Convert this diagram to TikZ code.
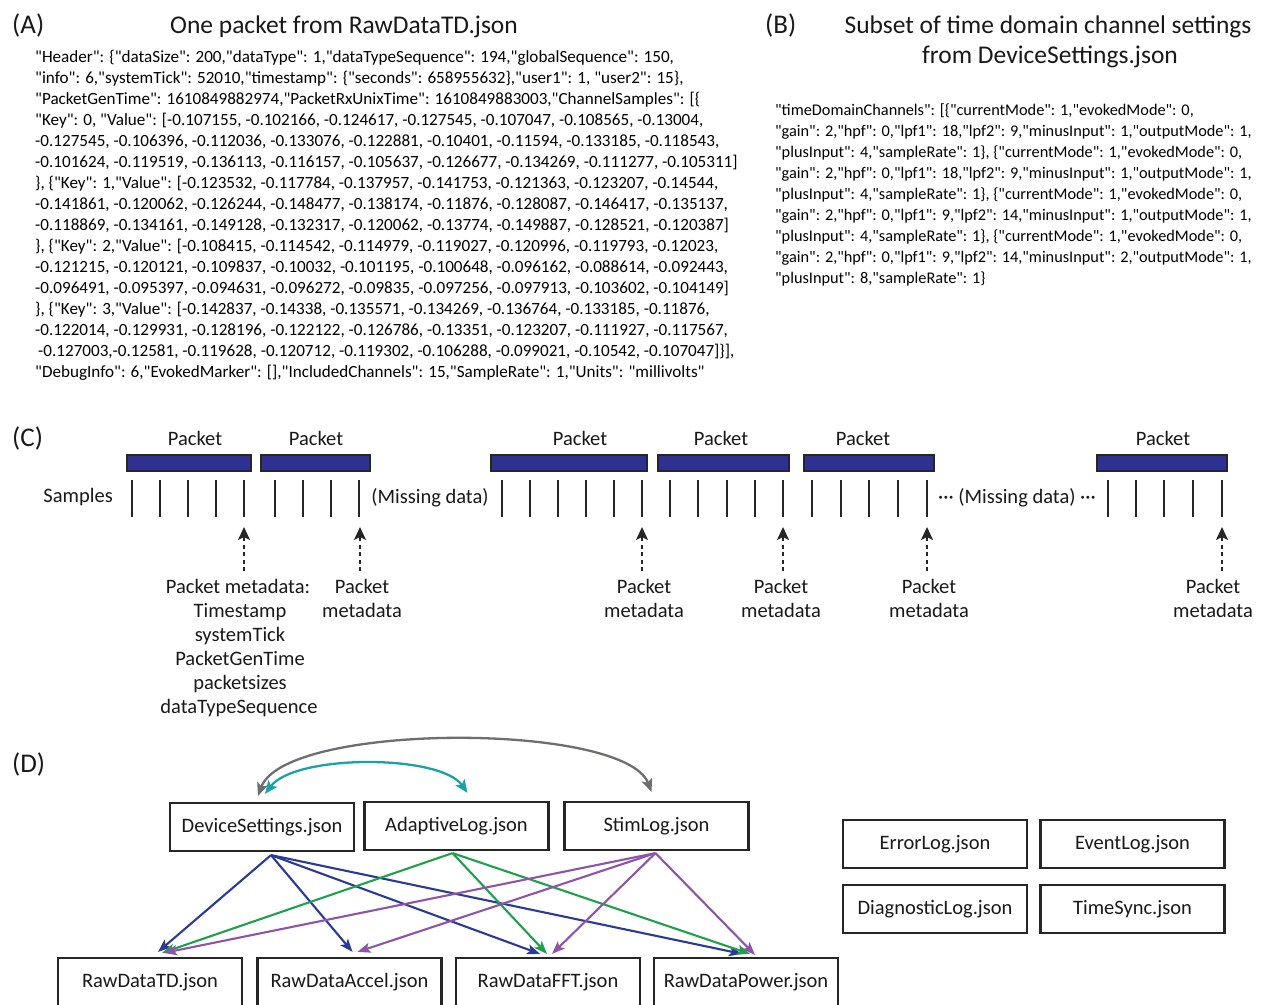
\documentclass[tikz,border=0pt]{standalone}
\usepackage{fontspec}
\setmainfont{Carlito}[Ligatures=TeXOff]
\usetikzlibrary{arrows.meta}
\definecolor{pblue}{HTML}{2E3192}
\definecolor{ablue}{HTML}{2B3A98}
\definecolor{agreen}{HTML}{1FA04A}
\definecolor{apurple}{HTML}{8E54A8}
\definecolor{ateal}{HTML}{1AA3A6}
\definecolor{agrey}{HTML}{6D6E71}
\begin{document}
\begin{tikzpicture}[x=1pt,y=-1pt,
  atext/.style={anchor=base west, inner sep=0pt, font=\fontsize{17.1}{20}\selectfont, text=black},
  btext/.style={anchor=base west, inner sep=0pt, font=\fontsize{16.3}{20}\selectfont, text=black},
  ttl/.style={anchor=base, inner sep=0pt, font=\fontsize{25.5}{30}\selectfont, text=black!90},
  plabel/.style={anchor=base west, inner sep=0pt, font=\fontsize{27}{30}\selectfont, text=black!90},
  ctext/.style={anchor=base, inner sep=0pt, font=\fontsize{20.5}{24}\selectfont, text=black!90},
  pbar/.style={draw=black!85, line width=1.6pt, fill=pblue},
  stick/.style={line width=2pt, black!85},
  meta/.style={line width=2pt, black!85, dash pattern=on 4pt off 3.5pt, -{Stealth[length=13pt,width=12pt,inset=3pt]}},
  fbox/.style={draw=black!85, line width=2.2pt, fill=white, inner sep=0pt, minimum width=184pt, minimum height=48pt, font=\fontsize{20.5}{24}\selectfont, text=black!90},
  link/.style={line width=2.1pt, -{Stealth[length=13pt,width=10pt,inset=3pt]}},
  arc/.style={line width=2.3pt, {Stealth[length=13pt,width=11pt,inset=3pt]}-{Stealth[length=13pt,width=11pt,inset=3pt]}}
]
\useasboundingbox[fill=white] (0,0) rectangle (1266,1004);

% ---------------- Panel A ----------------
\node[plabel] (labA) at (12,33) {(A)};
\node[ttl] (titA) at (344,33) {One packet from RawDataTD.json};
\node[atext] (a1) at (35,62) {"Header": \{"dataSize": 200,"dataType": 1,"dataTypeSequence": 194,"globalSequence": 150,};
\node[atext] (a2) at (35,83) {"info": 6,"systemTick": 52010,"timestamp": \{"seconds": 658955632\},"user1": 1, "user2": 15\},};
\node[atext] (a3) at (35,104) {"PacketGenTime": 1610849882974,"PacketRxUnixTime": 1610849883003,"ChannelSamples": [\{};
\node[atext] (a4) at (35,125) {"Key": 0, "Value": [-0.107155, -0.102166, -0.124617, -0.127545, -0.107047, -0.108565, -0.13004,};
\node[atext] (a5) at (35,146) {-0.127545, -0.106396, -0.112036, -0.133076, -0.122881, -0.10401, -0.11594, -0.133185, -0.118543,};
\node[atext] (a6) at (35,167) {-0.101624, -0.119519, -0.136113, -0.116157, -0.105637, -0.126677, -0.134269, -0.111277, -0.105311]};
\node[atext] (a7) at (35,188) {\}, \{"Key": 1,"Value": [-0.123532, -0.117784, -0.137957, -0.141753, -0.121363, -0.123207, -0.14544,};
\node[atext] (a8) at (35,209) {-0.141861, -0.120062, -0.126244, -0.148477, -0.138174, -0.11876, -0.128087, -0.146417, -0.135137,};
\node[atext] (a9) at (35,230) {-0.118869, -0.134161, -0.149128, -0.132317, -0.120062, -0.13774, -0.149887, -0.128521, -0.120387]};
\node[atext] (a10) at (35,251) {\}, \{"Key": 2,"Value": [-0.108415, -0.114542, -0.114979, -0.119027, -0.120996, -0.119793, -0.12023,};
\node[atext] (a11) at (35,272) {-0.121215, -0.120121, -0.109837, -0.10032, -0.101195, -0.100648, -0.096162, -0.088614, -0.092443,};
\node[atext] (a12) at (35,293) {-0.096491, -0.095397, -0.094631, -0.096272, -0.09835, -0.097256, -0.097913, -0.103602, -0.104149]};
\node[atext] (a13) at (35,314) {\}, \{"Key": 3,"Value": [-0.142837, -0.14338, -0.135571, -0.134269, -0.136764, -0.133185, -0.11876,};
\node[atext] (a14) at (35,335) {-0.122014, -0.129931, -0.128196, -0.122122, -0.126786, -0.13351, -0.123207, -0.111927, -0.117567,};
\node[atext] (a15) at (38,356) {-0.127003,-0.12581, -0.119628, -0.120712, -0.119302, -0.106288, -0.099021, -0.10542, -0.107047]\}],};
\node[atext] (a16) at (35,377) {"DebugInfo": 6,"EvokedMarker": [],"IncludedChannels": 15,"SampleRate": 1,"Units": "millivolts"};

% ---------------- Panel B ----------------
\node[plabel] (labB) at (765,33) {(B)};
\node[ttl] (titB1) at (1048,33) {Subset of time domain channel settings};
\node[ttl] (titB2) at (1050,63) {from DeviceSettings.json};
\node[btext] (b1) at (775,115) {"timeDomainChannels": [\{"currentMode": 1,"evokedMode": 0,};
\node[btext] (b2) at (775,136) {"gain": 2,"hpf": 0,"lpf1": 18,"lpf2": 9,"minusInput": 1,"outputMode": 1,};
\node[btext] (b3) at (775,157) {"plusInput": 4,"sampleRate": 1\}, \{"currentMode": 1,"evokedMode": 0,};
\node[btext] (b4) at (775,178) {"gain": 2,"hpf": 0,"lpf1": 18,"lpf2": 9,"minusInput": 1,"outputMode": 1,};
\node[btext] (b5) at (775,199) {"plusInput": 4,"sampleRate": 1\}, \{"currentMode": 1,"evokedMode": 0,};
\node[btext] (b6) at (775,220) {"gain": 2,"hpf": 0,"lpf1": 9,"lpf2": 14,"minusInput": 1,"outputMode": 1,};
\node[btext] (b7) at (775,241) {"plusInput": 4,"sampleRate": 1\}, \{"currentMode": 1,"evokedMode": 0,};
\node[btext] (b8) at (775,262) {"gain": 2,"hpf": 0,"lpf1": 9,"lpf2": 14,"minusInput": 2,"outputMode": 1,};
\node[btext] (b9) at (775,283) {"plusInput": 8,"sampleRate": 1\}};

% ---------------- Panel C ----------------
\node[plabel] (labC) at (12,446) {(C)};
\foreach \x/\n in {195/p1, 316/p2, 580/p3, 721/p4, 863/p5, 1163/p6}
  \node[ctext] (\n) at (\x,445) {Packet};
\foreach \a/\b/\n in {127/251/r1, 261/370/r2, 491/647/r3, 658/789/r4, 804/934/r5, 1097/1227/r6}
  \draw[pbar] (\a,455) rectangle (\b,471) coordinate (\n);
\node[ctext, anchor=base east] (samp) at (113,502) {Samples};
\foreach \x in {132,160,188,216,244,275,303,331,359,502,530,558,586,614,642,670,698,727,755,783,812,841,869,898,927,1108,1136,1164,1193,1222}
  \draw[stick] (\x,480) -- (\x,517);
\node[ctext] (miss1) at (430,503) {(Missing data)};
\node[ctext] (miss2) at (1017,503) {··· (Missing data) ···};
% metadata labels
\node[ctext] (m1a) at (238,593) {Packet metadata:};
\node[ctext] (m1b) at (240,617) {Timestamp};
\node[ctext] (m1c) at (240,641) {systemTick};
\node[ctext] (m1d) at (240,665) {PacketGenTime};
\node[ctext] (m1e) at (240,689) {packetsizes};
\node[ctext] (m1f) at (239,713) {dataTypeSequence};
\foreach \x/\n in {362/m2, 644/m3, 781/m4, 929/m5, 1213/m6}{
  \node[ctext] (\n a) at (\x,593) {Packet};
  \node[ctext] (\n b) at (\x,617) {metadata};
}
\foreach \x/\n in {244/q1, 360/q2, 642/q3, 783/q4, 927/q5, 1222/q6}{
  \coordinate (\n s) at (\x,571);
  \coordinate (\n e) at (\x,527);
  \draw[meta] (\n s) -- (\n e);
}

% ---------------- Panel D ----------------
\node[plabel] (labD) at (12,772) {(D)};
\node[fbox] (ds) at (262,827) {DeviceSettings.json};
\node[fbox] (al) at (456.5,826) {\raisebox{2pt}{AdaptiveLog.json}};
\node[fbox] (sl) at (656.5,826) {\raisebox{2pt}{StimLog.json}};
\node[fbox] (el) at (935,844) {ErrorLog.json};
\node[fbox] (ev) at (1132.5,844) {EventLog.json};
\node[fbox] (dl) at (935,909) {DiagnosticLog.json};
\node[fbox] (ts) at (1132.5,909) {TimeSync.json};
\node[fbox] (td) at (150,982) {RawDataTD.json};
\node[fbox] (ac) at (349.5,982) {RawDataAccel.json};
\node[fbox] (ff) at (548,982) {RawDataFFT.json};
\node[fbox] (pw) at (746,982) {RawDataPower.json};

% arcs
\draw[arc, agrey] ([xshift=-4pt,yshift=6pt]ds.north) .. controls (285,722) and (625,722) .. ([xshift=-5pt,yshift=9pt]sl.north);
\draw[arc, ateal] ([xshift=3pt,yshift=8pt]ds.north) .. controls (295,754) and (440,754) .. ([xshift=11pt,yshift=8pt]al.north);

% blue
\draw[link, ablue] ([xshift=9pt,yshift=-3pt]ds.south) -- ([xshift=8pt,yshift=5pt]td.north);
\draw[link, ablue] ([xshift=9pt,yshift=-3pt]ds.south) -- ([xshift=3pt,yshift=5pt]ac.north);
\draw[link, ablue] ([xshift=9pt,yshift=-3pt]ds.south) -- ([xshift=-8pt,yshift=3pt]ff.north);
\draw[link, ablue] ([xshift=9pt,yshift=-3pt]ds.south) -- ([xshift=-4pt,yshift=3pt]pw.north);
% green
\draw[link, agreen] ([xshift=-4pt,yshift=-2pt]al.south) -- ([xshift=12pt,yshift=4pt]td.north);
\draw[link, agreen] ([xshift=-4pt,yshift=-2pt]al.south) -- ([xshift=-1pt,yshift=3pt]ff.north);
\draw[link, agreen] ([xshift=-4pt,yshift=-2pt]al.south) -- ([xshift=4pt,yshift=3pt]pw.north);
% purple
\draw[link, apurple] ([xshift=-1pt,yshift=-2pt]sl.south) -- ([xshift=14pt,yshift=4pt]td.north);
\draw[link, apurple] ([xshift=-1pt,yshift=-2pt]sl.south) -- ([xshift=8pt,yshift=5pt]ac.north);
\draw[link, apurple] ([xshift=-1pt,yshift=-2pt]sl.south) -- ([xshift=4pt,yshift=3pt]ff.north);
\draw[link, apurple] ([xshift=-1pt,yshift=-2pt]sl.south) -- ([xshift=9pt,yshift=2pt]pw.north);
\end{tikzpicture}
\end{document}
